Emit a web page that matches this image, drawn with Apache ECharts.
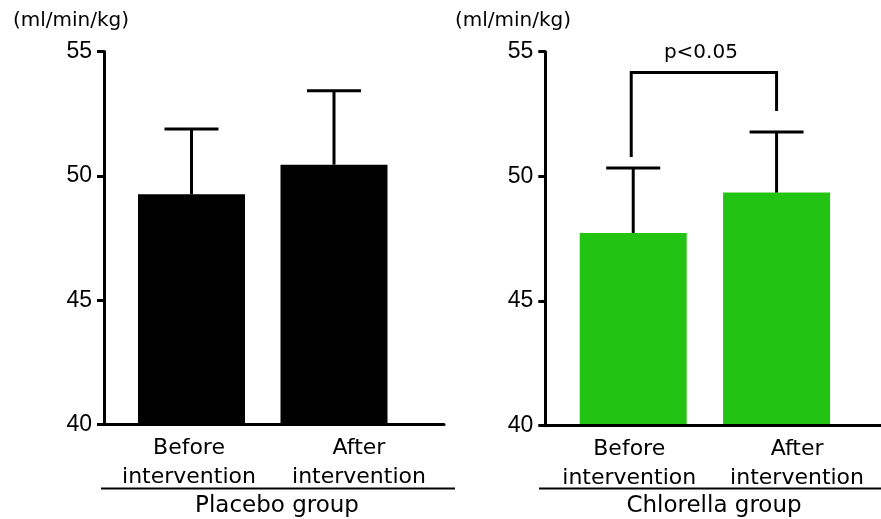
<!DOCTYPE html>
<html>
<head>
<meta charset="utf-8">
<script src="https://cdn.jsdelivr.net/npm/echarts@6/dist/echarts.min.js"></script>
<style>html,body{margin:0;padding:0;background:#fff}#c{width:881px;height:519px}</style>
</head>
<body>
<div id="c"></div>
<script>
// ---- data ----
const categories = ['Before\nintervention', 'After\nintervention'];
const groupNames = ['Placebo group', 'Chlorella group'];
const unitLabel = '(ml/min/kg)';
const yMin = 40, yMax = 55, yStep = 5;
const placeboMean = [49.26, 50.45];
const placeboSD = [2.62, 2.97];
const chlorellaMean = [47.73, 49.35];
const chlorellaSD = [2.61, 2.43];
// significance bracket (Chlorella): top level, left leg end, right leg end
const sigBracket = [54.17, 50.78, 52.62];
const sigLabel = 'p<0.05';

// ---- style ----
const BLACK = '#000';
const GREEN = '#22c312';
const barShift = [[2.5, -25], [4, -20.5]];
const BAR_W = 107, CAP_HALF = 27;

function barRender(shifts, color) {
  return function (params, api) {
    const i = api.value(0), mean = api.value(1), sd = api.value(2);
    const base = api.coord([i, yMin]);
    const top = api.coord([i, mean]);
    const cap = api.coord([i, mean + sd]);
    const cx = base[0] + shifts[i];
    return {
      type: 'group',
      children: [
        { type: 'rect', shape: { x: cx - BAR_W / 2, y: top[1], width: BAR_W, height: base[1] - top[1] }, style: { fill: color } },
        { type: 'line', shape: { x1: cx, y1: top[1], x2: cx, y2: cap[1] }, style: { stroke: BLACK, lineWidth: 3 } },
        { type: 'line', shape: { x1: cx - CAP_HALF, y1: cap[1], x2: cx + CAP_HALF, y2: cap[1] }, style: { stroke: BLACK, lineWidth: 3 } }
      ]
    };
  };
}

function bracketRender(params, api) {
  const topV = api.value(0), lV = api.value(1), rV = api.value(2);
  const pL = api.coord([0, topV]);
  const pR = api.coord([1, topV]);
  const xL = pL[0] + barShift[1][0] - 2;
  const xR = pR[0] + barShift[1][1];
  const yTop = pL[1];
  const yL = api.coord([0, lV])[1];
  const yR = api.coord([1, rV])[1];
  return {
    type: 'group',
    children: [
      { type: 'polyline', shape: { points: [[xL, yL], [xL, yTop], [xR, yTop], [xR, yR]] }, style: { stroke: BLACK, lineWidth: 3, fill: null } },
      { type: 'text', x: (xL + xR) / 2 - 3, y: yTop - 20, style: { text: sigLabel, font: '20px "DejaVu Sans"', fill: BLACK, align: 'center', verticalAlign: 'middle', textAlign: 'center', textVerticalAlign: 'middle' } }
    ]
  };
}

function xAxisCfg(gi) {
  return {
    type: 'category', gridIndex: gi, data: categories, z: 10,
    axisLine: { lineStyle: { color: BLACK, width: 3 } },
    axisTick: { show: false },
    axisLabel: { interval: 0, hideOverlap: false, color: BLACK, fontFamily: 'DejaVu Sans', fontSize: 22, lineHeight: 29, margin: 9 }
  };
}
function yAxisCfg(gi) {
  return {
    type: 'value', gridIndex: gi, min: yMin, max: yMax, interval: yStep, z: 10,
    axisLine: { show: true, lineStyle: { color: BLACK, width: 3 } },
    axisTick: { show: true, length: 7, lineStyle: { color: BLACK, width: 3 } },
    axisLabel: { color: BLACK, fontFamily: 'Liberation Sans', fontSize: 23, margin: 12 },
    splitLine: { show: false }
  };
}

const unitStyle = { fontFamily: 'DejaVu Sans', fontSize: 20, fontWeight: 'normal', color: BLACK };
const chart = echarts.init(document.getElementById('c'), null, { renderer: 'canvas' });
chart.setOption({
  animation: false,
  backgroundColor: '#fff',
  title: [
    { text: unitLabel, left: 13, top: 11, padding: 0, textStyle: unitStyle },
    { text: unitLabel, left: 455, top: 11, padding: 0, textStyle: unitStyle }
  ],
  grid: [
    { left: 104, top: 51.5, width: 340, height: 373 },
    { left: 545.3, top: 51.7, width: 336, height: 374 }
  ],
  xAxis: [xAxisCfg(0), xAxisCfg(1)],
  yAxis: [yAxisCfg(0), yAxisCfg(1)],
  graphic: [
    { type: 'line', shape: { x1: 101, y1: 488.5, x2: 455, y2: 488.5 }, style: { stroke: BLACK, lineWidth: 2 } },
    { type: 'line', shape: { x1: 539, y1: 488.5, x2: 881, y2: 488.5 }, style: { stroke: BLACK, lineWidth: 2 } },
    { type: 'text', x: 277, y: 506, style: { text: groupNames[0], font: '23px "DejaVu Sans"', fill: BLACK, align: 'center', verticalAlign: 'middle', textAlign: 'center', textVerticalAlign: 'middle' } },
    { type: 'text', x: 714, y: 506, style: { text: groupNames[1], font: '23px "DejaVu Sans"', fill: BLACK, align: 'center', verticalAlign: 'middle', textAlign: 'center', textVerticalAlign: 'middle' } }
  ],
  series: [
    { type: 'custom', xAxisIndex: 0, yAxisIndex: 0, renderItem: barRender(barShift[0], BLACK),
      data: placeboMean.map((m, i) => [i, m, placeboSD[i]]), encode: { x: 0, y: 1 } },
    { type: 'custom', xAxisIndex: 1, yAxisIndex: 1, renderItem: barRender(barShift[1], GREEN),
      data: chlorellaMean.map((m, i) => [i, m, chlorellaSD[i]]), encode: { x: 0, y: 1 } },
    { type: 'custom', xAxisIndex: 1, yAxisIndex: 1, renderItem: bracketRender,
      data: [sigBracket], encode: { y: [0, 1, 2] } }
  ]
});
</script>
</body>
</html>
